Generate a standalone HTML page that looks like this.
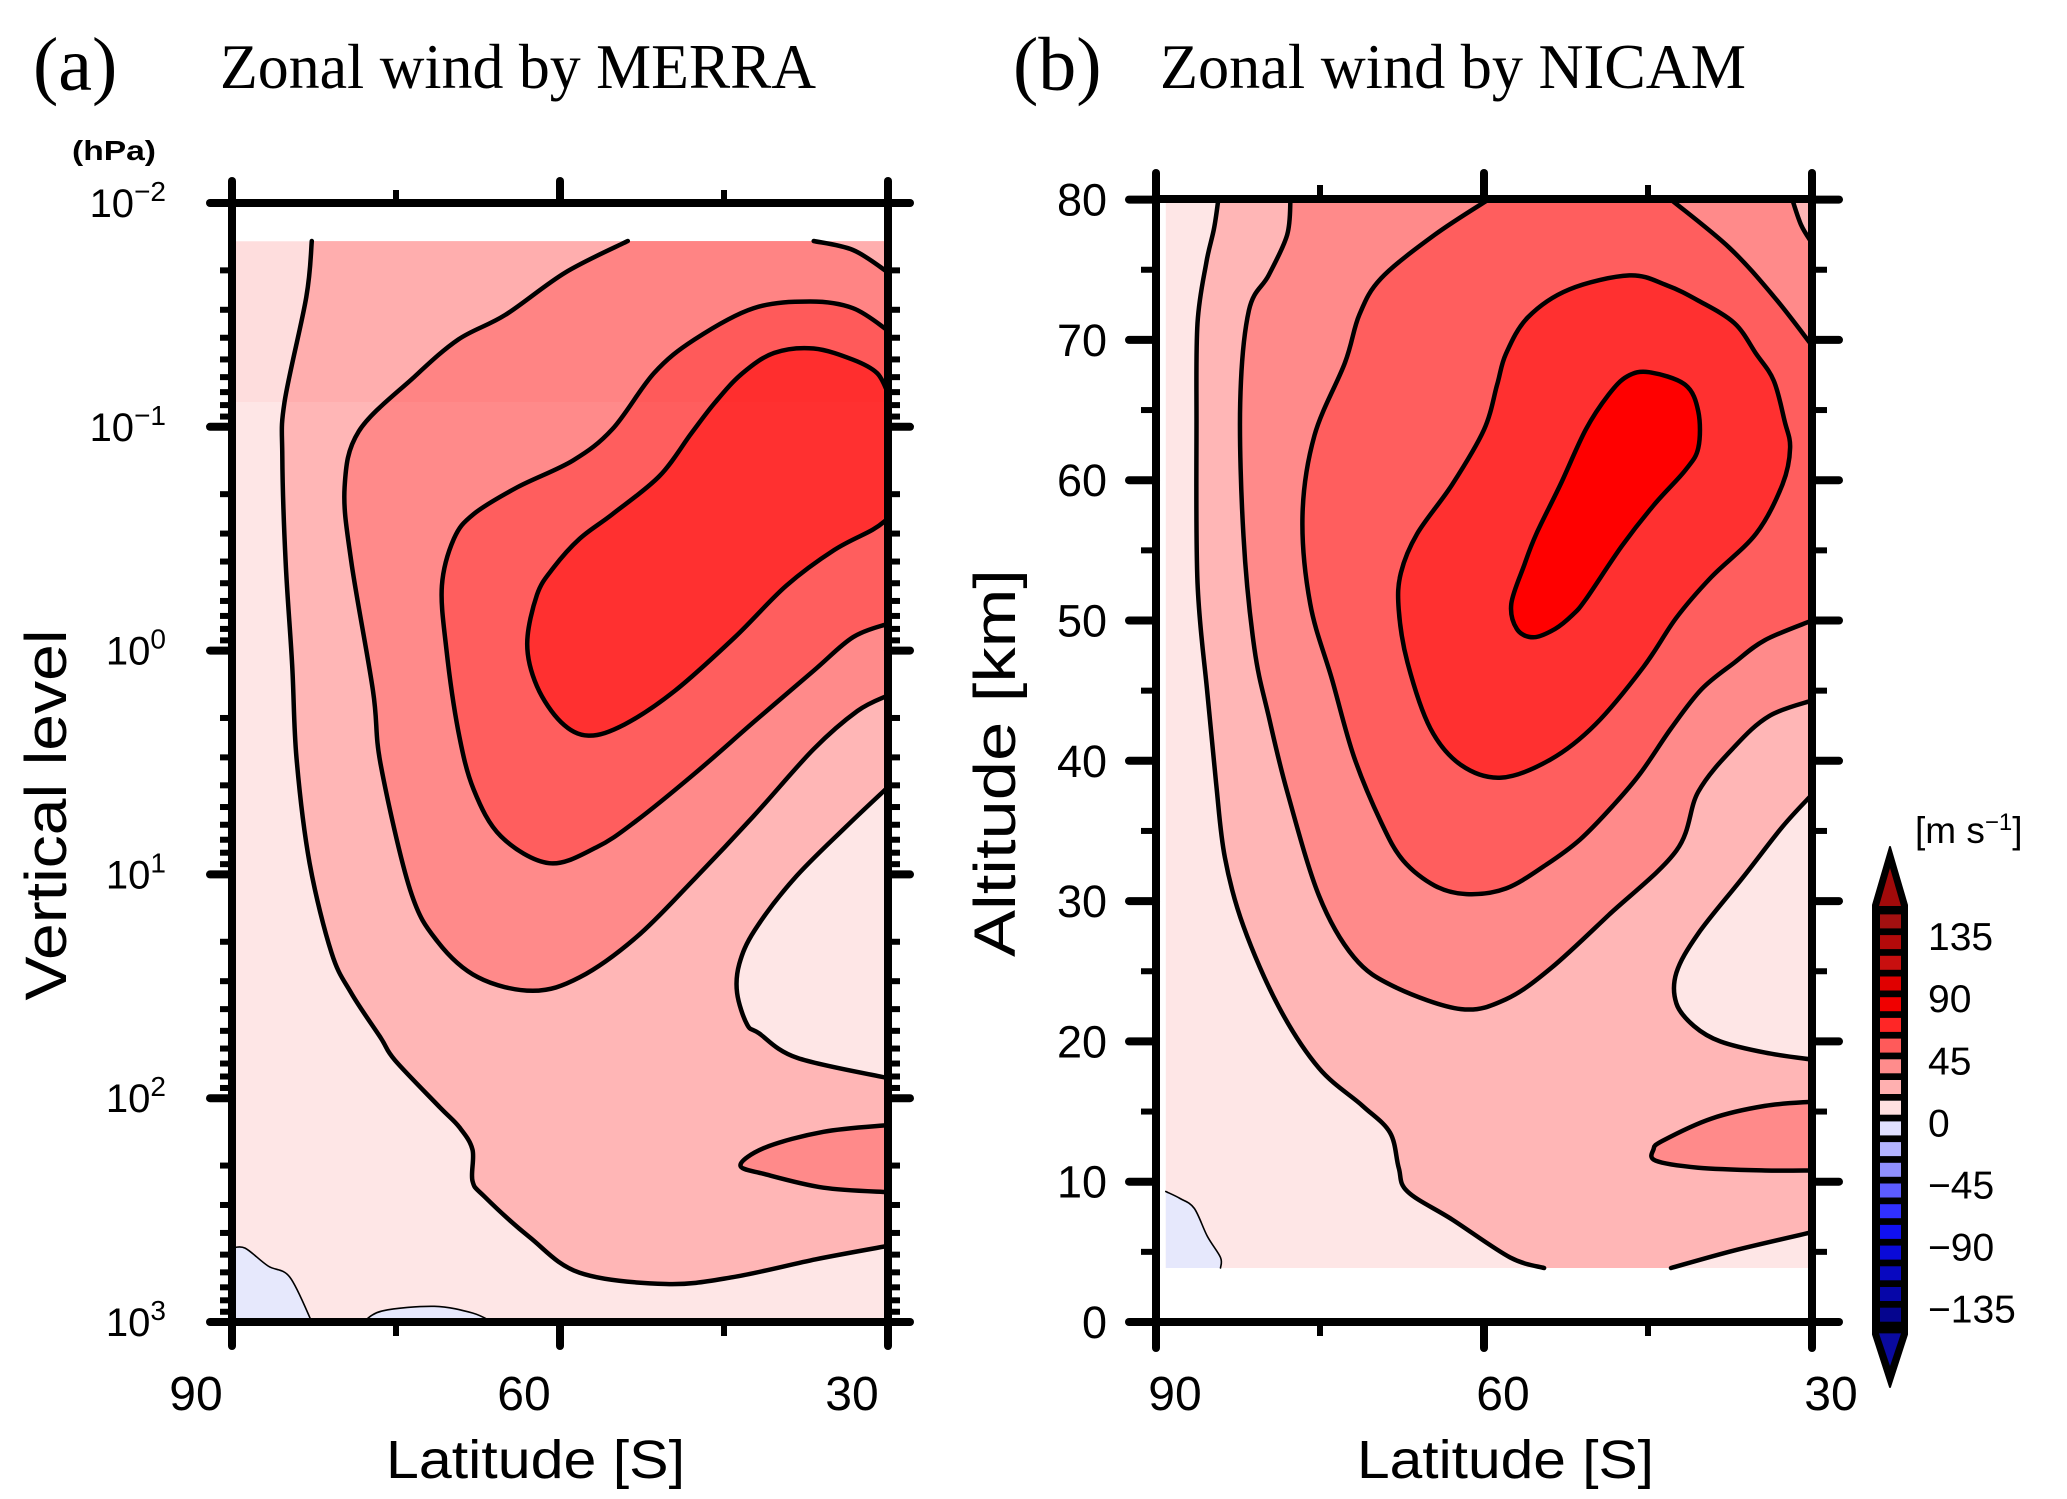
<!DOCTYPE html>
<html><head><meta charset="utf-8"><style>
html,body{margin:0;padding:0;background:#fff;}
svg{display:block;}
text{font-family:"Liberation Sans","DejaVu Sans",sans-serif;fill:#000;}
.serif{font-family:"Liberation Serif",serif;}
</style></head><body>
<svg id="fig" xmlns="http://www.w3.org/2000/svg" width="2067" height="1499" viewBox="0 0 2067 1499">
<defs>
<clipPath id="clipA"><rect x="232" y="203" width="656" height="1119"/></clipPath>
<clipPath id="clipB"><rect x="1156" y="199" width="656" height="1123"/></clipPath>
</defs>
<text class="serif" x="33" y="90" font-size="76">(a)</text>
<text class="serif" x="220" y="88" font-size="64" textLength="596" lengthAdjust="spacingAndGlyphs">Zonal wind by MERRA</text>
<text class="serif" x="1013" y="90" font-size="76">(b)</text>
<text class="serif" x="1160" y="88" font-size="64" textLength="586" lengthAdjust="spacingAndGlyphs">Zonal wind by NICAM</text>
<text x="72" y="160" font-size="28" font-weight="bold" textLength="84" lengthAdjust="spacingAndGlyphs">(hPa)</text>
<g id="panelA"></g>
<g id="panelB"></g>
<text x="386" y="1478" font-size="54" textLength="299" lengthAdjust="spacingAndGlyphs">Latitude [S]</text>
<text x="1357" y="1478" font-size="54" textLength="297" lengthAdjust="spacingAndGlyphs">Latitude [S]</text>
<text transform="translate(66,815) rotate(-90)" text-anchor="middle" font-size="58" textLength="371" lengthAdjust="spacingAndGlyphs">Vertical level</text>
<text transform="translate(1015,763) rotate(-90)" text-anchor="middle" font-size="58" textLength="388" lengthAdjust="spacingAndGlyphs">Altitude [km]</text>
<g id="cbar"></g>
<text x="1915" y="843" font-size="37">[m s<tspan dy="-13" font-size="24">−1</tspan><tspan dy="13">]</tspan></text>
</svg>
<script>
// ---- Panel A data: [latitude S, log10(pressure hPa)] ----
const A_C15=[[82.7,-1.83],[83.2,-1.58],[85.2,-1.11],[85.4,-0.87],[85.1,-0.40],[84.5,0.06],[84.1,0.48],[82.9,0.95],[80.9,1.35],[79.1,1.53],[76.4,1.73],[75.1,1.83],[71.0,2.04],[69.2,2.13],[68.0,2.23],[68.0,2.37],[66.9,2.44],[62.8,2.62],[58.2,2.78],[50.3,2.83],[44.2,2.80],[36.6,2.72],[30.0,2.66]];
const A_C30=[[53.8,-1.83],[59.5,-1.69],[65.0,-1.50],[69.3,-1.39],[73.4,-1.22],[78.4,-0.98],[79.7,-0.73],[79.1,-0.40],[77.1,0.18],[76.4,0.51],[73.7,1.07],[71.2,1.30],[67.5,1.46],[62.5,1.52],[58.2,1.46],[53.0,1.28],[47.7,1.02],[42.3,0.74],[36.8,0.44],[32.8,0.27],[30.0,0.20]];
const A_C30b=[[36.8,-1.83],[33.2,-1.79],[30.0,-1.69]];
const A_C45=[[30.0,-1.43],[33.2,-1.53],[37.1,-1.56],[42.3,-1.53],[47.7,-1.39],[51.4,-1.24],[55.2,-0.99],[58.8,-0.85],[63.9,-0.73],[67.9,-0.61],[69.7,-0.50],[70.8,-0.29],[70.4,-0.01],[69.3,0.36],[67.9,0.62],[65.4,0.83],[61.0,0.95],[56.7,0.88],[53.0,0.76],[47.7,0.55],[42.3,0.32],[36.8,0.09],[33.2,-0.06],[30.0,-0.12]];
const A_C60=[[30.0,-1.15],[31.0,-1.24],[33.2,-1.30],[36.8,-1.35],[40.4,-1.33],[43.3,-1.24],[45.8,-1.11],[48.0,-0.97],[50.9,-0.78],[55.2,-0.61],[58.2,-0.50],[60.6,-0.37],[62.1,-0.25],[63.0,-0.03],[62.1,0.16],[59.9,0.32],[57.4,0.38],[54.1,0.33],[49.5,0.18],[44.0,-0.06],[39.3,-0.29],[34.9,-0.45],[31.4,-0.54],[30.0,-0.59]];
const A_C15b=[[30.0,0.61],[33.9,0.79],[38.6,1.02],[42.2,1.25],[43.6,1.40],[43.8,1.53],[42.9,1.67],[41.8,1.71],[38.3,1.82],[30.0,1.91]];
const A_T45=[[30.0,2.12],[35.9,2.15],[41.2,2.22],[43.5,2.30],[41.2,2.34],[35.9,2.40],[30.0,2.42]];
const A_NEG1=[[90,2.67],[88.8,2.67],[86.7,2.75],[84.7,2.80],[82.7,3.0]];
const A_NEG2=[[78.0,3.0],[76.2,2.95],[71.5,2.93],[68.0,2.96],[66.2,3.0]];
const A_yTicks=[-2,-1,0,1,2,3];
const A_yLabels=["−2","−1","0","1","2","3"];
// ---- Panel B data: [latitude S, altitude km] ----
const B_C15=[[84.3,80.0],[84.7,77.9],[85.4,75.5],[86.2,71.2],[86.3,64.2],[86.2,52.7],[85.3,44.8],[84.5,38.4],[83.7,33.1],[82.0,28.2],[78.8,22.5],[75.1,18.1],[71.1,15.4],[68.6,13.5],[67.8,11.0],[67.0,9.3],[62.9,7.3],[57.6,4.6],[54.5,3.85]];
const B_C15c=[[42.9,3.85],[37.1,5.1],[30.0,6.4]];
const B_C15d=[[31.8,80.0],[31.0,78.2],[30.0,76.9]];
const B_C30=[[77.7,80.0],[78.0,77.5],[79.7,74.6],[81.5,72.1],[82.3,65.5],[82.0,56.0],[81.0,48.0],[79.7,43.2],[78.0,37.8],[75.1,30.4],[71.9,26.0],[68.2,23.9],[62.1,22.3],[58.0,23.0],[53.9,25.2],[48.6,29.0],[42.4,33.6],[40.4,37.8],[37.1,41.0],[33.9,43.2],[30.0,44.3]];
const B_C45=[[59.6,80.0],[64.5,77.5],[69.4,74.4],[71.4,71.8],[72.7,68.4],[75.5,63.2],[76.6,57.5],[75.9,51.2],[73.9,45.8],[71.9,40.3],[69.4,35.6],[67.4,32.9],[64.5,31.1],[61.6,30.5],[58.0,30.9],[54.3,32.6],[51.2,34.4],[48.2,36.8],[45.7,39.1],[42.9,42.3],[40.1,45.1],[37.1,47.0],[34.3,48.6],[30.0,50.0]];
const B_C45b=[[42.9,80.0],[37.6,76.6],[33.5,73.1],[30.0,69.6]];
const B_C60=[[46.7,74.6],[52.2,73.6],[56.0,71.6],[58.0,69.0],[58.8,66.8],[60.0,63.6],[62.9,59.7],[66.1,56.2],[67.6,53.4],[67.8,50.8],[67.0,47.0],[64.9,42.3],[62.1,39.7],[58.4,38.8],[53.9,40.1],[49.8,42.6],[45.4,46.7],[42.4,50.2],[39.2,53.1],[35.1,56.2],[32.7,59.7],[32.0,62.3],[32.5,64.2],[33.5,67.1],[35.1,69.0],[37.1,71.2],[40.4,72.8],[43.3,73.9]];
const B_C75=[[44.9,67.7],[41.6,66.8],[40.4,64.9],[40.4,62.3],[41.6,60.7],[44.5,58.2],[47.4,55.3],[50.7,51.5],[51.9,50.4],[53.5,49.4],[55.5,48.8],[57.0,49.4],[57.5,51.2],[56.3,54.0],[55.2,56.2],[53.0,59.7],[50.7,63.6],[48.6,66.1],[46.9,67.4]];
const B_C15b=[[30.0,37.6],[32.7,35.3],[36.3,31.7],[40.4,27.7],[42.4,24.9],[42.4,22.7],[40.8,21.1],[38.4,20.0],[34.3,19.2],[30.0,18.7]];
const B_T45=[[30.0,15.7],[34.3,15.4],[39.2,14.5],[43.7,12.9],[44.5,12.3],[44.3,11.5],[40.4,11.0],[34.3,10.8],[30.0,10.8]];
const B_NEG=[[89.1,9.3],[87.8,8.8],[86.5,8.1],[85.3,6.1],[84.1,4.6],[84.1,3.85]];
const B_yTicks=[0,10,20,30,40,50,60,70,80];
const latTicks=[90,60,30];
const latMinor=[75,45];
// ---- Colour bar ----
const cbLabels=["135","90","45","0","−45","−90","−135"];
const cbColors=["#a31010","#b30a0a","#c80f0f","#e00000","#f00000","#ff2626","#ff5a5a","#ff8c8c","#ffb0b0","#ffe0e0","#e0e0ff","#b4b4ff","#9090ff","#5c5cff","#3030ff","#1010f0","#0a0ad8","#0808c0","#0606a8","#05058e"];
const fills=["#fee6e6","#ffb6b6","#ff8a8a","#ff5e5e","#ff3030","#ff0000"];
const negFill="#e6e8fc";

const NS="http://www.w3.org/2000/svg";
function mk(tag,attrs,parent){const e=document.createElementNS(NS,tag);for(const k in attrs)e.setAttribute(k,attrs[k]);parent.appendChild(e);return e;}
const xA=lat=>232+(90-lat)*(656/60);
const yA=lp=>203+(lp+2)*223.8;
const xB=lat=>1156+(90-lat)*(656/60);
const yB=z=>1322-z*14.03;
const f1=v=>v.toFixed(1);
function smooth(pts,fx,fy,close,cont){
  const P=pts.map(p=>[fx(p[0]),fy(p[1])]);const n=P.length;
  const g=i=>close?P[(i+n)%n]:P[Math.max(0,Math.min(n-1,i))];
  let s=(cont?" L":"M")+f1(P[0][0])+" "+f1(P[0][1]);
  const segs=close?n:n-1;
  for(let i=0;i<segs;i++){const p0=g(i-1),p1=g(i),p2=g(i+1),p3=g(i+2);
    const c1=[p1[0]+(p2[0]-p0[0])/6,p1[1]+(p2[1]-p0[1])/6];
    const c2=[p2[0]-(p3[0]-p1[0])/6,p2[1]-(p3[1]-p1[1])/6];
    s+=` C${f1(c1[0])} ${f1(c1[1])} ${f1(c2[0])} ${f1(c2[1])} ${f1(p2[0])} ${f1(p2[1])}`;}
  return s+(close?" Z":"");}
function seq(parts,fx,fy){let s="";parts.forEach((pt,i)=>{s+=smooth(pt,fx,fy,false,i>0);});return s+" Z";}
const rev=a=>a.slice().reverse();

function fillArea(g,dstr,color,name){const p=mk('path',{d:dstr,fill:color,stroke:'none'},g);

}
function line(g,pts,fx,fy,name,w,close){const p=mk('path',{d:smooth(pts,fx,fy,close,false),fill:'none',stroke:'#000','stroke-width':w||4.5,'stroke-linejoin':'round','stroke-linecap':'round'},g);

}

// Panel A
const gA=document.getElementById('panelA');
const cA=mk('g',{'clip-path':'url(#clipA)'},gA);
fillArea(cA,seq([[[90,-1.83]],[[30,-1.83]],[[30,3]],[[90,3]]],xA,yA),fills[0],'fill-0-15-a');
fillArea(cA,seq([A_C15,[[30,-1.83]]],xA,yA),fills[1],'fill-15-30-a');
fillArea(cA,seq([A_C15b],xA,yA),fills[0],'fill-0-15-bulge-a');
fillArea(cA,seq([A_C30,rev(A_C30b)],xA,yA),fills[2],'fill-30-45-a');
fillArea(cA,seq([A_T45],xA,yA),fills[2],'fill-30-45-tongue-a');
fillArea(cA,seq([A_C45],xA,yA),fills[3],'fill-45-60-a');
fillArea(cA,seq([A_C60],xA,yA),fills[4],'fill-60-75-a');
fillArea(cA,seq([A_NEG1,[[90,3]]],xA,yA),negFill,'fill-negative-a1');
fillArea(cA,seq([A_NEG2],xA,yA),negFill,'fill-negative-a2');
mk('rect',{x:232,y:242,width:656,height:160,fill:'#ff0000','fill-opacity':'0.04'},cA);
line(cA,A_C15,xA,yA,'contour-15-a');
line(cA,A_C30,xA,yA,'contour-30-a');
line(cA,A_C30b,xA,yA,'contour-30-top-a');
line(cA,A_C45,xA,yA,'contour-45-a');
line(cA,A_C60,xA,yA,'contour-60-a');
line(cA,A_C15b,xA,yA,'contour-15-bulge-a');
line(cA,A_T45,xA,yA,'contour-30-tongue-a');
line(cA,A_NEG1,xA,yA,'contour-0-a1',1.6);
line(cA,A_NEG2,xA,yA,'contour-0-a2',1.6);
mk('rect',{x:232,y:203,width:656,height:1119,fill:'none',stroke:'#000','stroke-width':8},gA);
A_yTicks.forEach((t,i)=>{
  const y=yA(t);
  mk('line',{x1:210,x2:232,y1:y,y2:y,stroke:'#000','stroke-width':8,'stroke-linecap':'round'},gA);
  mk('line',{x1:888,x2:910,y1:y,y2:y,stroke:'#000','stroke-width':8,'stroke-linecap':'round'},gA);
  const tx=mk('text',{x:166,y:y+14,'font-size':40,'text-anchor':'end'},gA);
  tx.textContent="10";
  const sp=mk('tspan',{dy:-16,'font-size':28},tx);sp.textContent=A_yLabels[i];
  
  
  if(i<A_yTicks.length-1){for(let k=2;k<=9;k++){const ym=yA(t+Math.log10(k));
    mk('line',{x1:220,x2:232,y1:ym,y2:ym,stroke:'#000','stroke-width':6},gA);
    mk('line',{x1:888,x2:900,y1:ym,y2:ym,stroke:'#000','stroke-width':6},gA);}}
});
latTicks.forEach(t=>{const x=xA(t);
  mk('line',{x1:x,x2:x,y1:181,y2:203,stroke:'#000','stroke-width':8,'stroke-linecap':'round'},gA);
  mk('line',{x1:x,x2:x,y1:1322,y2:1346,stroke:'#000','stroke-width':8,'stroke-linecap':'round'},gA);
  const tx=mk('text',{x:x-36,y:1410,'font-size':48,'text-anchor':'middle'},gA);tx.textContent=t;
  
  });
latMinor.forEach(t=>{const x=xA(t);
  mk('line',{x1:x,x2:x,y1:190,y2:203,stroke:'#000','stroke-width':6},gA);
  mk('line',{x1:x,x2:x,y1:1322,y2:1336,stroke:'#000','stroke-width':6},gA);});

// Panel B
const gB=document.getElementById('panelB');
const cB=mk('g',{'clip-path':'url(#clipB)'},gB);
fillArea(cB,seq([[[89.1,80]],[[30,80]],[[30,3.85]],[[89.1,3.85]]],xB,yB),fills[0],'fill-0-15-b');
fillArea(cB,seq([B_C15,B_C15c,[[30,80]]],xB,yB),fills[1],'fill-15-30-b');
fillArea(cB,seq([B_C30,rev(B_C15d)],xB,yB),fills[2],'fill-30-45-b');
fillArea(cB,seq([B_C15b],xB,yB),fills[0],'fill-0-15-bulge-b');
fillArea(cB,seq([B_T45],xB,yB),fills[2],'fill-30-45-tongue-b');
fillArea(cB,seq([B_C45,rev(B_C45b)],xB,yB),fills[3],'fill-45-60-b');
fillArea(cB,smooth(B_C60,xB,yB,true,false),fills[4],'fill-60-75-b');
fillArea(cB,smooth(B_C75,xB,yB,true,false),fills[5],'fill-75-90-b');
fillArea(cB,seq([B_NEG,[[89.1,3.85]]],xB,yB),negFill,'fill-negative-b');
line(cB,B_C15,xB,yB,'contour-15-b');
line(cB,B_C15c,xB,yB,'contour-15-lower-b');
line(cB,B_C15d,xB,yB,'contour-15-corner-b');
line(cB,B_C30,xB,yB,'contour-30-b');
line(cB,B_C45,xB,yB,'contour-45-b');
line(cB,B_C45b,xB,yB,'contour-45-top-b');
line(cB,B_C60,xB,yB,'contour-60-b',4.5,true);
line(cB,B_C75,xB,yB,'contour-75-b',4.5,true);
line(cB,B_C15b,xB,yB,'contour-15-bulge-b');
line(cB,B_T45,xB,yB,'contour-30-tongue-b');
line(cB,B_NEG,xB,yB,'contour-0-b',1.6);
mk('rect',{x:1156,y:199,width:656,height:1123,fill:'none',stroke:'#000','stroke-width':8},gB);
B_yTicks.forEach(t=>{const y=yB(t);
  mk('line',{x1:1129,x2:1156,y1:y,y2:y,stroke:'#000','stroke-width':8,'stroke-linecap':'round'},gB);
  mk('line',{x1:1812,x2:1839,y1:y,y2:y,stroke:'#000','stroke-width':8,'stroke-linecap':'round'},gB);
  const tx=mk('text',{x:1107,y:y+16,'font-size':45,'text-anchor':'end'},gB);tx.textContent=t;
  
  
  if(t<80){const ym=yB(t+5);
    mk('line',{x1:1141,x2:1156,y1:ym,y2:ym,stroke:'#000','stroke-width':6},gB);
    mk('line',{x1:1812,x2:1827,y1:ym,y2:ym,stroke:'#000','stroke-width':6},gB);}
});
latTicks.forEach(t=>{const x=xB(t);
  mk('line',{x1:x,x2:x,y1:173,y2:199,stroke:'#000','stroke-width':8,'stroke-linecap':'round'},gB);
  mk('line',{x1:x,x2:x,y1:1322,y2:1348,stroke:'#000','stroke-width':8,'stroke-linecap':'round'},gB);
  const tx=mk('text',{x:x+19,y:1410,'font-size':48,'text-anchor':'middle'},gB);tx.textContent=t;
  
  });
latMinor.forEach(t=>{const x=xB(t);
  mk('line',{x1:x,x2:x,y1:185,y2:199,stroke:'#000','stroke-width':6},gB);
  mk('line',{x1:x,x2:x,y1:1322,y2:1336,stroke:'#000','stroke-width':6},gB);});

// Colour bar
const gC=document.getElementById('cbar');
const top0=914.4,pitch=20.7,bh=14;
const cbBottom=top0+cbColors.length*pitch;
mk('path',{d:`M1890 847 L1907 905 L1907 ${cbBottom+6} L1890 1387 L1873 ${cbBottom+6} L1873 905 Z`,fill:'#000',stroke:'#000','stroke-width':2,'stroke-linejoin':'round'},gC);
mk('path',{d:'M1890 868 L1901 906 L1879 906 Z',fill:'#a00a0a'},gC);
mk('path',{d:`M1879 ${cbBottom+5} L1901 ${cbBottom+5} L1890 1366 Z`,fill:'#0a0aa0'},gC);
cbColors.forEach((c,i)=>{const r=mk('rect',{x:1880,y:top0+i*pitch,width:21,height:bh,fill:c},gC);
  
  });
cbLabels.forEach((l,i)=>{const y=top0+(1+3*i)*pitch+1;
  const tx=mk('text',{x:1928,y:y+14,'font-size':39},gC);tx.textContent=l;
  
  });
</script>
</body></html>
